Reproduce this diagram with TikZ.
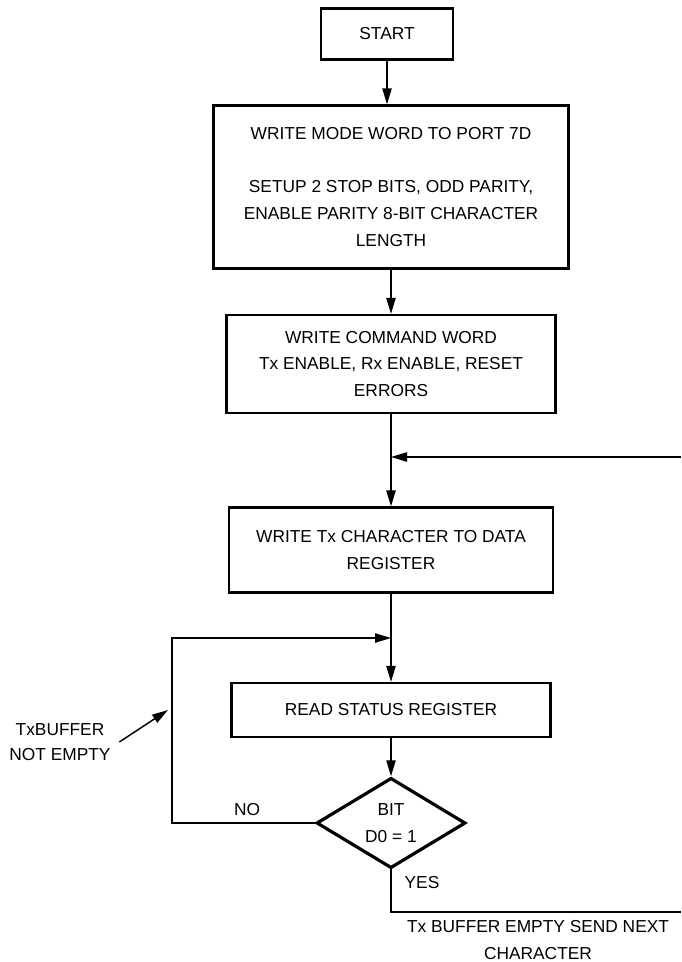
\documentclass[tikz,border=0pt]{standalone}
\usepackage{fontspec}
\setmainfont{Liberation Sans}
\usetikzlibrary{shapes.geometric,arrows.meta,positioning,calc}

\begin{document}
\begin{tikzpicture}[
    x=0.75pt, y=-0.75pt,
    font=\fontsize{13}{20}\selectfont,
    block/.style={rectangle, draw, line width=1.8pt, align=center, inner sep=0pt},
    decision/.style={diamond, draw, line width=2.4pt, align=center, inner sep=0pt,
        minimum width=111.75pt, minimum height=63.75pt},
    link/.style={line width=1.1pt},
    flow/.style={link, -{Triangle[length=12pt,width=7pt]}},
    lbl/.style={align=center, inner sep=0pt}
]
\useasboundingbox (0,0) rectangle (681,962);

% 流程框
\node[block, minimum width=99pt, minimum height=38.25pt] (start) at (387,34) {START};
\node[block, minimum width=266.25pt, minimum height=122.25pt] (mode) at (391,187)
    {WRITE MODE WORD TO PORT 7D\\[20pt]SETUP 2 STOP BITS, ODD PARITY,\\ENABLE PARITY 8-BIT CHARACTER\\LENGTH};
\node[block, minimum width=246.75pt, minimum height=73.5pt] (command) at (391,364)
    {WRITE COMMAND WORD\\Tx ENABLE, Rx ENABLE, RESET\\ERRORS};
\node[block, minimum width=243pt, minimum height=63.75pt] (writetx) at (391,550)
    {WRITE Tx CHARACTER TO DATA\\REGISTER};
\node[block, minimum width=239.25pt, minimum height=40.5pt] (status) at (391,710)
    {READ STATUS REGISTER};
\node[decision] (test) at (391,823) {BIT\\D0 = 1};

% 标签
\node[lbl] (no) at (247,810) {NO};
\node[lbl] (yes) at (422,883) {YES};
\node[lbl] (next) at (538,940) {Tx BUFFER EMPTY SEND NEXT\\CHARACTER};
\node[lbl, font=\fontsize{13}{19}\selectfont] (notempty) at (60,742) {TxBUFFER\\NOT EMPTY};

% 辅助点
\coordinate (rin) at (681,457);
\coordinate (j1) at (command.south |- rin);
\coordinate (lcorner) at (172,638);
\coordinate (j2) at (writetx.south |- lcorner);
\coordinate (yesend) at (681,912);
\coordinate (hit) at (168,710);

% 主流程
\draw[flow] (start.south) -- (start.south |- mode.north);
\draw[flow] (mode) -- (command);
\draw[link] (command.south) -- (j1);
\draw[flow] (j1) -- (writetx.north);
\draw[link] (writetx.south) -- (j2);
\draw[flow] (j2) -- (status.north);
\draw[flow] (status) -- (test);

% 回路
\draw[flow] (rin) -- (j1);
\draw[flow] (test.west) -- (lcorner |- test.west) -- (lcorner) -- (j2);
\draw[link] ([yshift=3pt]test.south) |- (yesend);
\draw[flow] ([xshift=6.4pt]notempty.east) -- (hit);

\end{tikzpicture}
\end{document}
